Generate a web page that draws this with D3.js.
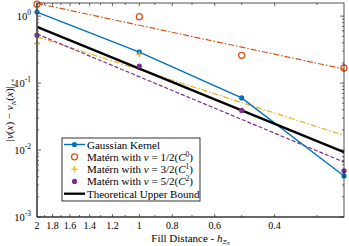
<!DOCTYPE html>
<html>
<head>
<meta charset="utf-8">
<script src="https://cdn.jsdelivr.net/npm/d3@7"></script>
<style>
body { margin:0; background:#fff; }
text { font-family: "Liberation Serif", "DejaVu Serif", serif; fill:#000; }
</style>
</head>
<body>
<div id="chart"></div>
<script>
// fill distances and errors
var fillDist = [2, 1, 0.5, 0.25];
var gaussErr = [1.15, 0.29, 0.060, 0.0041];
var matern12 = [1.51, 0.98, 0.26, 0.168];
var matern32 = [0.39, 0.27];
var matern52 = [0.52, 0.18, 0.039, 0.0049];

// fitted lines, value at h = 2 and h = 0.25
var fitEnds = [2, 0.25];
var fit12 = [1.55, 0.162];
var fit32 = [0.49, 0.0166];
var fit52 = [0.54, 0.0066];
var bound = [0.69, 0.0093];

var xTicks = [2, 1.8, 1.6, 1.4, 1.2, 1, 0.8, 0.6, 0.4];
var xMinor = [1.9, 1.7, 1.5, 1.3, 1.1, 0.9, 0.7, 0.5, 0.3];
var yTicks = [1e-3, 1e-2, 1e-1, 1];
var yExp = ['-3', '-2', '-1', '0'];

var margin = {top:3, right:5, bottom:29, left:37},
    width = 349 - margin.left - margin.right,
    height = 246 - margin.top - margin.bottom;

var svg = d3.select('#chart').append('svg')
    .attr('width', 349).attr('height', 246)

var g = svg.append('g')
    .attr('transform', 'translate(' + margin.left + ',' + margin.top + ')')

var xScale = d3.scaleLog().domain([2, 0.25]).range([0, width])
var yScale = d3.scaleLog().domain([1e-3, 1.57]).range([height, 0])

var axisColor = '#262626'

// y minor ticks
var yMinor = [];
[1e-3, 1e-2, 1e-1, 1].forEach(function(d) {
    for (var k = 2; k <= 9; k++) {
        if (d * k <= 1.57) yMinor.push(d * k)
    }
})

function tickLines(vals, len, horiz) {
    vals.forEach(function(v) {
        if (horiz) {
            var x = xScale(v)
            g.append('line').attr('x1', x).attr('x2', x).attr('y1', height).attr('y2', height - len)
                .style('stroke', axisColor).style('stroke-width', 0.7)
            g.append('line').attr('x1', x).attr('x2', x).attr('y1', 0).attr('y2', len)
                .style('stroke', axisColor).style('stroke-width', 0.7)
        } else {
            var y = yScale(v)
            g.append('line').attr('x1', 0).attr('x2', len).attr('y1', y).attr('y2', y)
                .style('stroke', axisColor).style('stroke-width', 0.7)
            g.append('line').attr('x1', width).attr('x2', width - len).attr('y1', y).attr('y2', y)
                .style('stroke', axisColor).style('stroke-width', 0.7)
        }
    })
}
tickLines(xTicks, 3, true)
tickLines(xMinor, 2, true)
tickLines(yTicks, 4, false)
tickLines(yMinor, 2, false)

// x tick labels
g.selectAll('.xl').data(xTicks).enter().append('text')
    .attr('x', function(d) { return xScale(d) })
    .attr('y', height + 12)
    .attr('text-anchor', 'middle')
    .style('font-size', '10px')
    .text(function(d) { return d })

// y tick labels 10^n
yTicks.forEach(function(d, i) {
    var t = g.append('text')
        .attr('x', -6).attr('y', yScale(d) + 4)
        .attr('text-anchor', 'end')
        .style('font-size', '10.5px')
    t.append('tspan').text('10')
    t.append('tspan').attr('dy', -5).style('font-size', '7.5px').text(yExp[i])
})

// lines
var line = d3.line()
    .x(function(d) { return xScale(d[0]) })
    .y(function(d) { return yScale(d[1]) })

function drawFit(vals, color, dash, w) {
    g.append('path')
        .datum(d3.zip(fitEnds, vals))
        .attr('d', line)
        .style('fill', 'none')
        .style('stroke', color)
        .style('stroke-width', w)
        .style('stroke-dasharray', dash)
}
drawFit(fit12, '#D95319', '6,2,1.5,2', 1.2)
drawFit(fit32, '#EDB120', '6,2,1.5,2', 1.2)
drawFit(fit52, '#7E2F8E', '4,2', 1.2)

g.append('path')
    .datum(d3.zip(fillDist, gaussErr))
    .attr('d', line)
    .style('fill', 'none')
    .style('stroke', '#0072BD')
    .style('stroke-width', 1.4)

drawFit(bound, '#000', null, 2.3)

// markers
g.selectAll('.gm').data(d3.zip(fillDist, gaussErr)).enter().append('circle')
    .attr('cx', function(d) { return xScale(d[0]) })
    .attr('cy', function(d) { return yScale(d[1]) })
    .attr('r', 2.6).style('fill', '#0072BD')

g.selectAll('.m1').data(d3.zip(fillDist, matern12)).enter().append('circle')
    .attr('cx', function(d) { return xScale(d[0]) })
    .attr('cy', function(d) { return yScale(d[1]) })
    .attr('r', 3).style('fill', 'none').style('stroke', '#D95319').style('stroke-width', 1.3)

g.selectAll('.m3').data(d3.zip(fillDist.slice(0, matern32.length), matern32)).enter().append('path')
    .attr('transform', function(d) { return 'translate(' + xScale(d[0]) + ',' + yScale(d[1]) + ')' })
    .attr('d', 'M-3,0H3M0,-3V3')
    .style('stroke', '#EDB120').style('stroke-width', 1.3)

g.selectAll('.m5').data(d3.zip(fillDist, matern52)).enter().append('circle')
    .attr('cx', function(d) { return xScale(d[0]) })
    .attr('cy', function(d) { return yScale(d[1]) })
    .attr('r', 2.6).style('fill', '#7E2F8E')

// frame
g.append('rect').attr('width', width).attr('height', height)
    .style('fill', 'none').style('stroke', axisColor).style('stroke-width', 0.8)
g.append('line').attr('x1', 0).attr('x2', 0).attr('y1', 0).attr('y2', height)
    .style('stroke', '#555').style('stroke-width', 1.6)
g.append('line').attr('x1', 0).attr('x2', width).attr('y1', height).attr('y2', height)
    .style('stroke', axisColor).style('stroke-width', 1.2)

// legend
var legNames = ['Gaussian Kernel', 'Matérn with ', 'Matérn with ', 'Matérn with ', 'Theoretical Upper Bound']
var legNu = [null, ['1/2', '0'], ['3/2', '1'], ['5/2', '2'], null]
var lx = 62 - margin.left, ly = 138 - margin.top
var leg = g.append('g').attr('transform', 'translate(' + lx + ',' + ly + ')')
leg.append('rect').attr('width', 138).attr('height', 63)
    .style('fill', '#fff').style('stroke', '#000').style('stroke-width', 0.8)

legNames.forEach(function(name, i) {
    var y = 6.5 + i * 12.3
    var r = leg.append('g').attr('transform', 'translate(0,' + y + ')')
    if (i == 0) {
        r.append('line').attr('x1', 2).attr('x2', 23).style('stroke', '#0072BD').style('stroke-width', 1.4)
        r.append('circle').attr('cx', 12.5).attr('r', 2.6).style('fill', '#0072BD')
    } else if (i == 1) {
        r.append('circle').attr('cx', 12.5).attr('r', 3).style('fill', 'none')
            .style('stroke', '#D95319').style('stroke-width', 1.3)
    } else if (i == 2) {
        r.append('path').attr('transform', 'translate(12.5,0)').attr('d', 'M-3,0H3M0,-3V3')
            .style('stroke', '#EDB120').style('stroke-width', 1.3)
    } else if (i == 3) {
        r.append('circle').attr('cx', 12.5).attr('r', 2.6).style('fill', '#7E2F8E')
    } else {
        r.append('line').attr('x1', 2).attr('x2', 23).style('stroke', '#000').style('stroke-width', 2.3)
    }
    var t = r.append('text').attr('x', 25).attr('y', 4).style('font-size', '11px')
    t.append('tspan').text(name)
    if (legNu[i]) {
        t.append('tspan').style('font-style', 'italic').text('ν')
        t.append('tspan').text(' = ' + legNu[i][0] + '(')
        t.append('tspan').style('font-style', 'italic').text('C')
        t.append('tspan').attr('dy', -4).style('font-size', '7.5px').text(legNu[i][1])
        t.append('tspan').attr('dy', 4).text(')')
    }
})

// axis titles
var xt = svg.append('text')
    .attr('x', margin.left + width / 2).attr('y', 242)
    .attr('text-anchor', 'middle').style('font-size', '11px')
xt.append('tspan').text('Fill Distance - ')
xt.append('tspan').style('font-style', 'italic').text('h')
xt.append('tspan').attr('dy', 2).style('font-size', '6.5px').style('font-style', 'italic').text('Ξ')
xt.append('tspan').attr('dy', 1).style('font-size', '4.5px').style('font-style', 'italic').text('N')

var yt = svg.append('text')
    .attr('transform', 'translate(13,' + (margin.top + height / 2) + ') rotate(-90)')
    .attr('text-anchor', 'middle').style('font-size', '11px')
yt.append('tspan').text('|')
yt.append('tspan').style('font-style', 'italic').text('v')
yt.append('tspan').text('(')
yt.append('tspan').style('font-style', 'italic').text('x')
yt.append('tspan').text(') − ')
yt.append('tspan').style('font-style', 'italic').text('v')
yt.append('tspan').attr('dy', 2.5).style('font-size', '7px').style('font-style', 'italic').text('N')
yt.append('tspan').attr('dy', -2.5).text('(')
yt.append('tspan').style('font-style', 'italic').text('x')
yt.append('tspan').text(')|')
yt.append('tspan').attr('dy', 2.5).style('font-size', '7px').style('font-style', 'italic').text('L')
yt.append('tspan').attr('dy', -2).style('font-size', '5px').text('∞')
</script>
</body>
</html>
